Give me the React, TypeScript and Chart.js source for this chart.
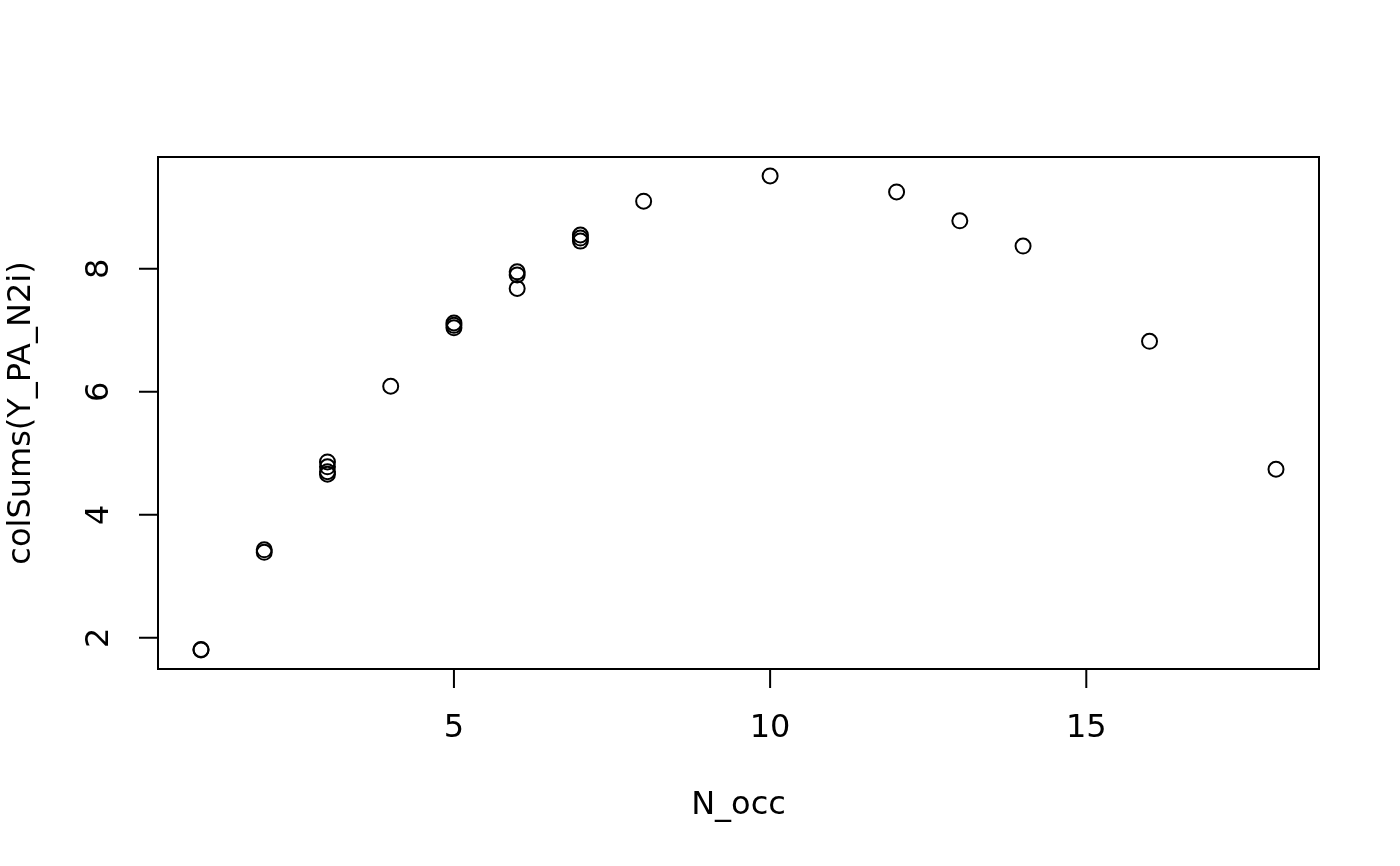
import React, { useEffect, useRef } from "react";
import { Chart, registerables } from "chart.js";

Chart.register(...registerables);

const xValues = [1, 1, 2, 2, 3, 3, 3, 3, 4, 5, 5, 5, 6, 6, 6, 7, 7, 7, 8, 10, 12, 13, 14, 16, 18];
const yValues = [1.80, 1.81, 3.39, 3.43, 4.86, 4.78, 4.70, 4.66, 6.09, 7.12, 7.08, 7.04, 7.95, 7.90, 7.68, 8.55, 8.50, 8.45, 9.10, 9.51, 9.25, 8.78, 8.37, 6.82, 4.74];
const xTicks = [5, 10, 15];
const yTicks = [2, 4, 6, 8];
const xTitle = "N_occ";
const yTitle = "colSums(Y_PA_N2i)";

const FONT = "32px 'DejaVu Sans'";

const rAxes = {
  id: "rAxes",
  afterDraw(chart: any) {
    const ctx = chart.ctx;
    const { left, right, top, bottom } = chart.chartArea;
    const xs = chart.scales.x;
    const ys = chart.scales.y;
    ctx.save();
    ctx.strokeStyle = "#000";
    ctx.lineWidth = 2;
    ctx.strokeRect(left, top, right - left, bottom - top);
    ctx.fillStyle = "#000";
    ctx.font = FONT;
    // x ticks
    ctx.textAlign = "center";
    ctx.textBaseline = "middle";
    ctx.beginPath();
    const x0 = xs.getPixelForValue(xTicks[0]);
    const x1 = xs.getPixelForValue(xTicks[xTicks.length - 1]);
    ctx.moveTo(x0, bottom);
    ctx.lineTo(x1, bottom);
    xTicks.forEach((t) => {
      const px = xs.getPixelForValue(t);
      ctx.moveTo(px, bottom);
      ctx.lineTo(px, bottom + 19);
    });
    ctx.stroke();
    xTicks.forEach((t) => {
      const px = xs.getPixelForValue(t);
      ctx.fillText(String(t), px, bottom + 60);
    });
    ctx.fillText(xTitle, (left + right) / 2, bottom + 137);
    // y ticks
    ctx.beginPath();
    const y0 = ys.getPixelForValue(yTicks[0]);
    const y1 = ys.getPixelForValue(yTicks[yTicks.length - 1]);
    ctx.moveTo(left, y0);
    ctx.lineTo(left, y1);
    yTicks.forEach((t) => {
      const py = ys.getPixelForValue(t);
      ctx.moveTo(left, py);
      ctx.lineTo(left - 19, py);
    });
    ctx.stroke();
    yTicks.forEach((t) => {
      const py = ys.getPixelForValue(t);
      ctx.save();
      ctx.translate(left - 58, py);
      ctx.rotate(-Math.PI / 2);
      ctx.fillText(String(t), 0, 0);
      ctx.restore();
    });
    ctx.save();
    ctx.translate(left - 136, (top + bottom) / 2);
    ctx.rotate(-Math.PI / 2);
    ctx.fillText(yTitle, 0, 0);
    ctx.restore();
    ctx.restore();
  },
};

export default function App() {
  const ref = useRef<HTMLCanvasElement>(null);
  useEffect(() => {
    if (!ref.current) return;
    const data = xValues.map((x, i) => ({ x, y: yValues[i] }));
    const chart = new Chart(ref.current, {
      type: "scatter",
      data: {
        datasets: [
          {
            data,
            pointRadius: 7.5,
            pointHoverRadius: 7.5,
            pointBorderWidth: 2,
            pointBorderColor: "#000",
            pointBackgroundColor: "rgba(0,0,0,0)",
            borderColor: "#000",
          },
        ],
      },
      options: {
        animation: false,
        responsive: false,
        devicePixelRatio: 1,
        layout: { padding: { left: 158, top: 157, right: 81, bottom: 197 } },
        plugins: { legend: { display: false }, tooltip: { enabled: false } },
        scales: {
          x: { type: "linear", display: false, min: 0.32, max: 18.68 },
          y: { type: "linear", display: false, min: 1.492, max: 9.818 },
        },
      },
      plugins: [rAxes],
    });
    return () => chart.destroy();
  }, []);
  return (
    <div style={{ position: "absolute", left: 0, top: 0, width: 1400, height: 866, background: "#fff" }}>
      <canvas ref={ref} width={1400} height={866} />
    </div>
  );
}
